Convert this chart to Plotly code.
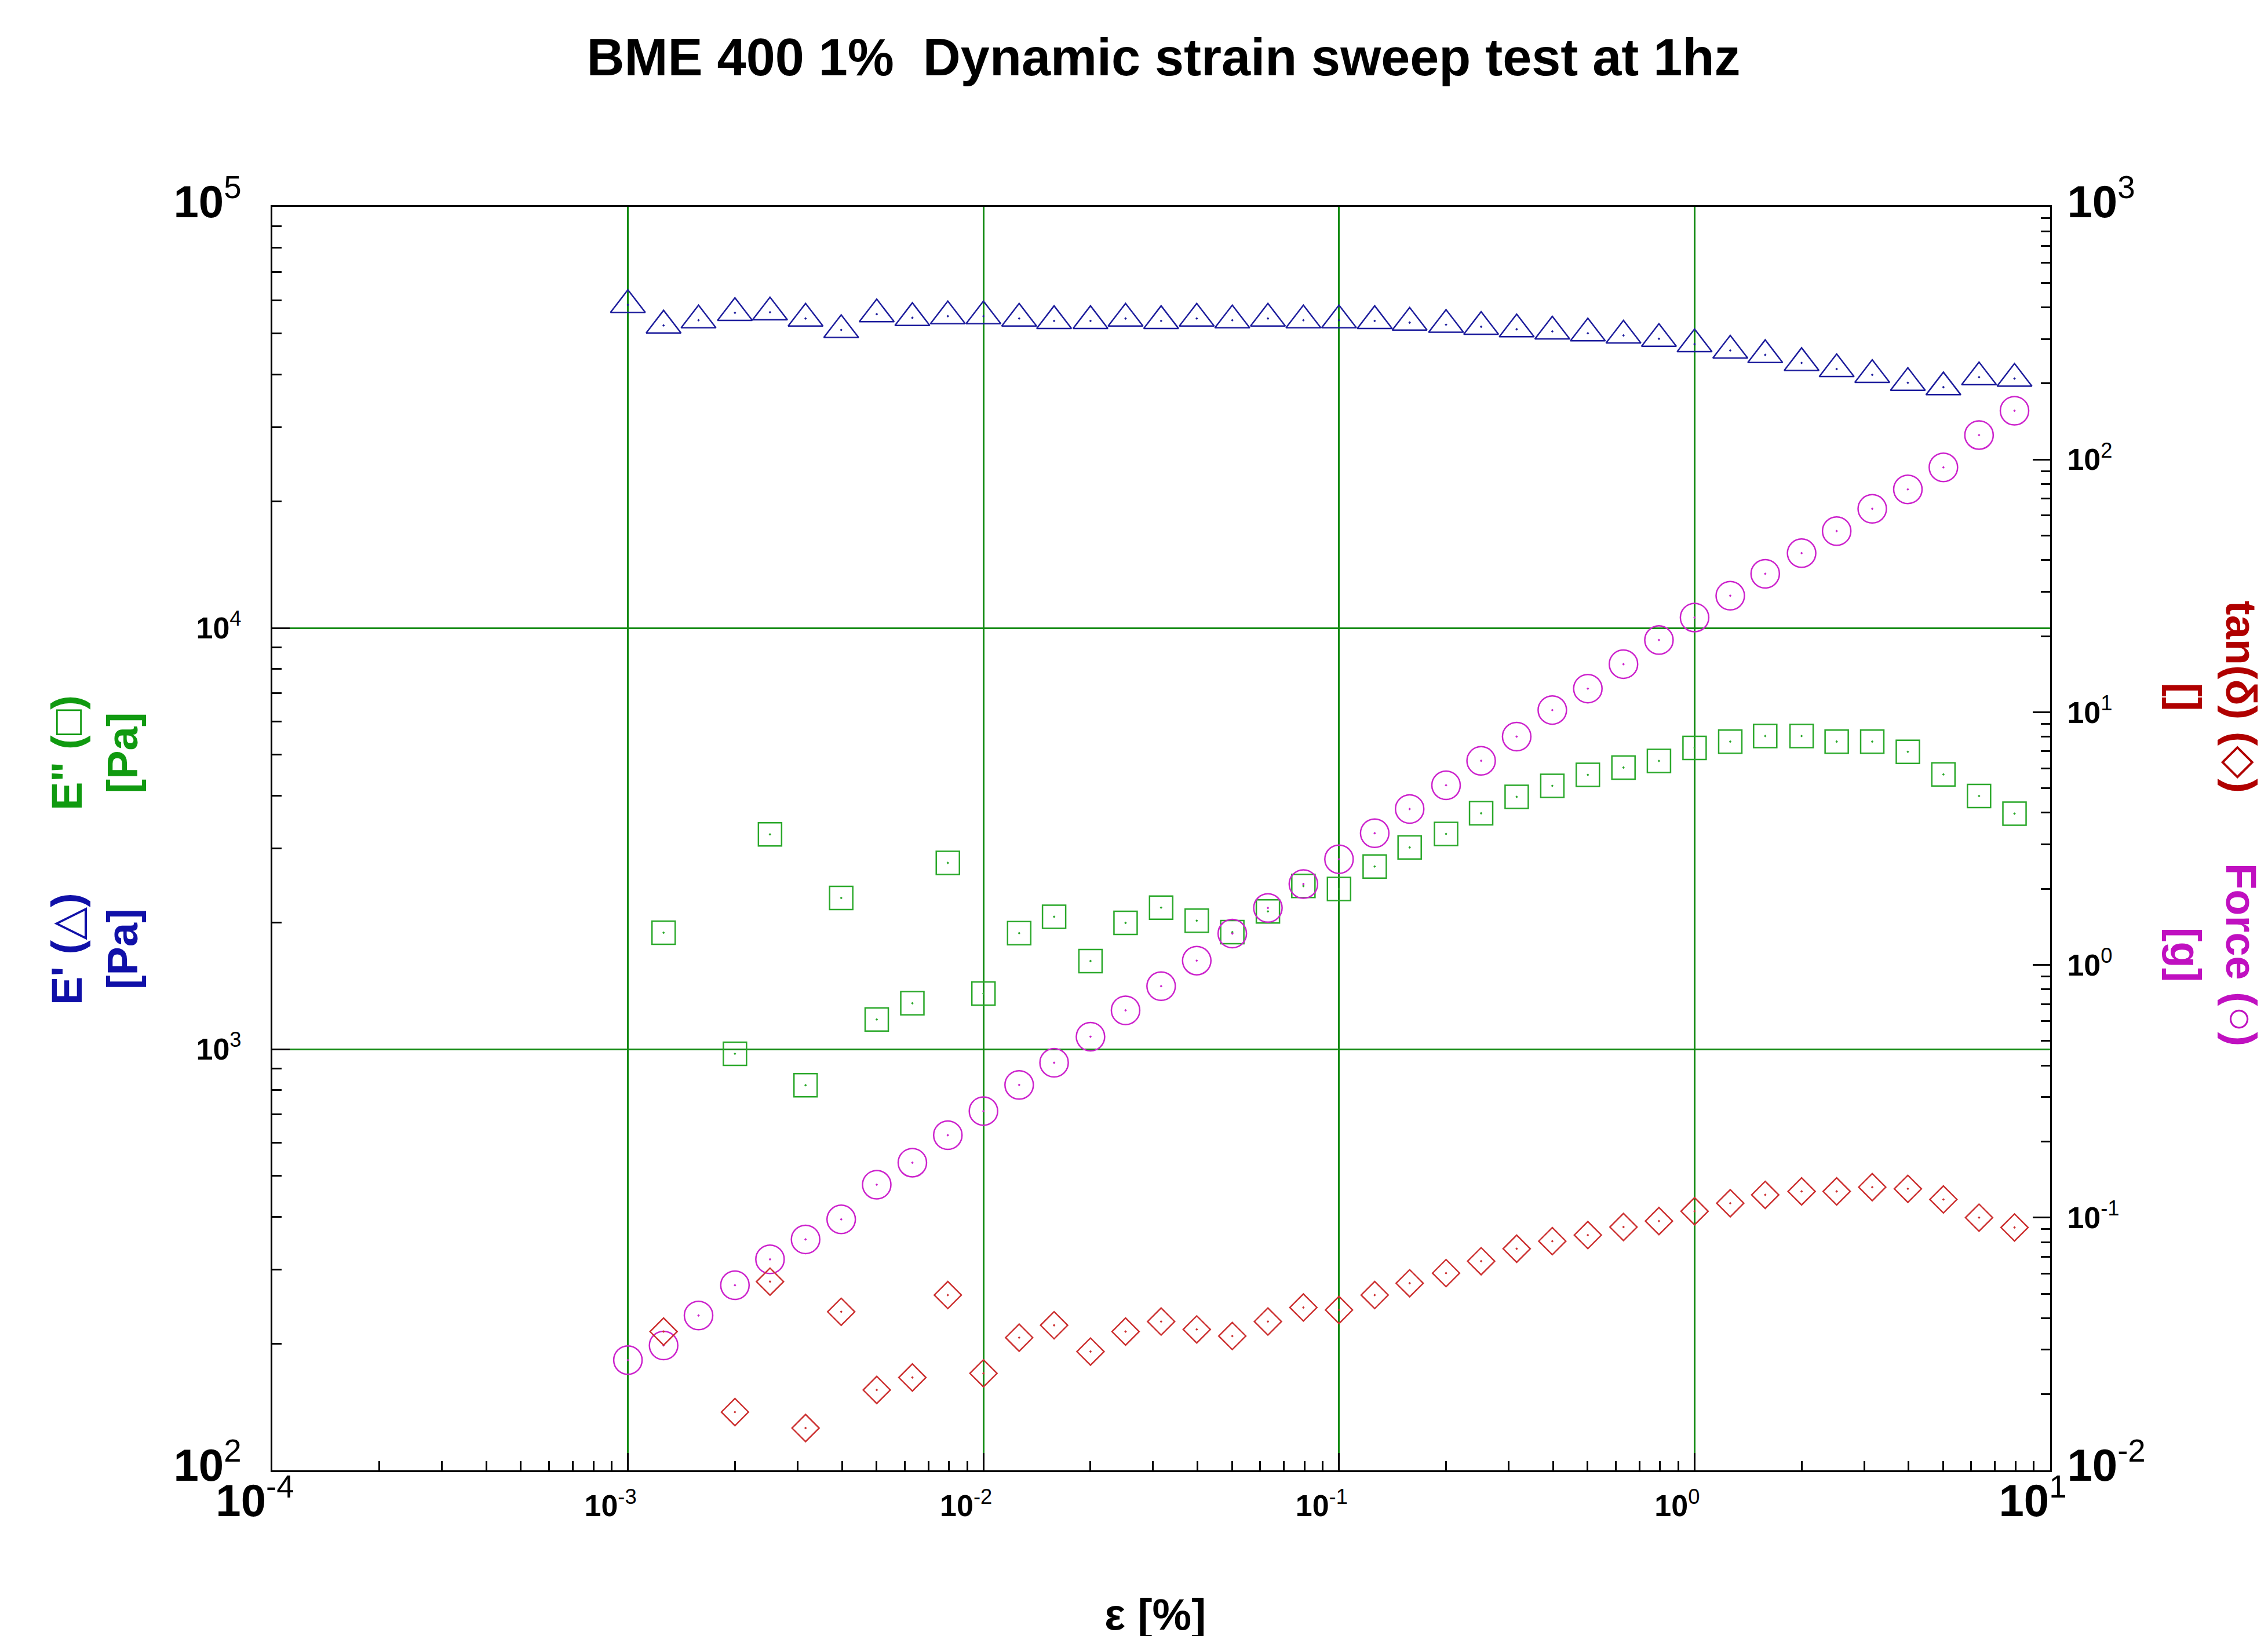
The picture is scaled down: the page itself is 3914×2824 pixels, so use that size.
import plotly.graph_objects as go

# ---------------- data ----------------
strain_pct = [0.001, 0.00126, 0.00158, 0.002, 0.00251, 0.00316, 0.00398, 0.00501, 0.00631, 0.00794,
              0.01, 0.0126, 0.0158, 0.02, 0.0251, 0.0316, 0.0398, 0.0501, 0.0631, 0.0794,
              0.1, 0.126, 0.158, 0.2, 0.251, 0.316, 0.398, 0.501, 0.631, 0.794,
              1.0, 1.26, 1.58, 2.0, 2.51, 3.16, 3.98, 5.01, 6.31, 7.94]

e_storage_pa = [58500, 52300, 53800, 56000, 56200, 54300, 51000, 55600, 54500, 55000,
                55000, 54300, 53600, 53600, 54300, 53600, 54300, 53800, 54300, 53800,
                53800, 53600, 53100, 52500, 51900, 51200, 50600, 50100, 49500, 48600,
                47200, 45600, 44500, 42600, 41200, 39900, 38200, 37300, 39400, 39100]

e_loss_pa = [None, 1890, None, 975, 3236, 821, 2285, 1176, 1285, 2768,
             1355, 1885, 2062, 1619, 1994, 2168, 2018, 1896, 2124, 2440,
             2400, 2715, 3013, 3243, 3631, 3971, 4219, 4479, 4663, 4833,
             5190, 5373, 5541, 5541, 5373, 5373, 5082, 4490, 3990, 3624]

tan_delta = [None, 0.0354, None, 0.0170, 0.0558, 0.0147, 0.0424, 0.0208, 0.0233, 0.0494,
             0.0242, 0.0335, 0.0375, 0.0295, 0.0354, 0.0388, 0.0361, 0.0340, 0.0388, 0.0441,
             0.0431, 0.0494, 0.0550, 0.0603, 0.0672, 0.0753, 0.0807, 0.0853, 0.0918, 0.0969,
             0.106, 0.114, 0.123, 0.127, 0.127, 0.132, 0.130, 0.118, 0.100, 0.0914]

force_g = [0.0273, 0.0312, 0.0410, 0.0540, 0.0684, 0.0820, 0.0984, 0.135, 0.165, 0.212,
           0.264, 0.335, 0.410, 0.520, 0.661, 0.824, 1.04, 1.33, 1.68, 2.09,
           2.62, 3.32, 4.14, 5.14, 6.42, 8.01, 10.2, 12.4, 15.5, 19.3,
           23.7, 28.9, 35.3, 42.6, 52.1, 63.8, 76.2, 93.1, 125, 156]

x_tick_vals = [1e-4, 1e-3, 1e-2, 1e-1, 1e0, 1e1]
x_tick_exps = ["-4", "-3", "-2", "-1", "0", "1"]
y_left_tick_vals = [1e2, 1e3, 1e4, 1e5]
y_left_tick_exps = ["2", "3", "4", "5"]
y_right_tick_vals = [1e-2, 1e-1, 1e0, 1e1, 1e2, 1e3]
y_right_tick_exps = ["-2", "-1", "0", "1", "2", "3"]

title_text = "BME 400 1%  Dynamic strain sweep test at 1hz"
x_title = "ε [%]"

# ---------------- styling ----------------
FONT = "Liberation Sans, Arial, DejaVu Sans, sans-serif"
BIG, SMALL = 78, 52


def tick_labels(exps):
    out = []
    n = len(exps)
    for i, e in enumerate(exps):
        size = BIG if i in (0, n - 1) else SMALL
        out.append('<span style="font-size:%dpx">10<sup><span style="font-weight:normal">%s</span></sup></span>'
                   % (size, e))
    return out


W, H = 3914, 2824
L, R, T, B = 462, 3530, 349, 2530
pw, ph = R - L, B - T


def px_x(x):
    return (x - L) / pw


def px_y(y):
    return (B - y) / ph


fig = go.Figure()

fig.add_trace(go.Scatter(
    x=strain_pct, y=e_storage_pa, mode="markers", yaxis="y",
    marker=dict(symbol="triangle-up-open-dot", size=52, color="#1c1c9c",
                line=dict(width=2.5, color="#1c1c9c")),
    name="E'"))
fig.add_trace(go.Scatter(
    x=strain_pct, y=e_loss_pa, mode="markers", yaxis="y",
    marker=dict(symbol="square-open-dot", size=40, color="#2aa82a",
                line=dict(width=2.5, color="#2aa82a")),
    name="E''"))
fig.add_trace(go.Scatter(
    x=strain_pct, y=force_g, mode="markers", yaxis="y2",
    marker=dict(symbol="circle-open-dot", size=49, color="#cc22cc",
                line=dict(width=2.5, color="#cc22cc")),
    name="Force"))
fig.add_trace(go.Scatter(
    x=strain_pct, y=tan_delta, mode="markers", yaxis="y2",
    marker=dict(symbol="diamond-open-dot", size=36, color="#cc3030",
                line=dict(width=2.5, color="#cc3030")),
    name="tan(δ)"))

minor_common = dict(ticks="inside", ticklen=16, tickwidth=3, tickcolor="black",
                    dtick="D1", showgrid=False)

fig.update_layout(
    width=W, height=H,
    margin=dict(l=L, r=W - R, t=T, b=H - B, pad=0),
    paper_bgcolor="white", plot_bgcolor="white",
    showlegend=False,
    font=dict(family=FONT, color="black", size=SMALL),
    title=dict(text=title_text, x=px_x(2000), xanchor="center", xref="paper",
               y=1 - 90 / H, yanchor="middle", yref="container",
               font=dict(family=FONT, size=90, weight="bold", color="black")),
    xaxis=dict(type="log", range=[-4, 1], showline=True, linecolor="black", linewidth=3,
               mirror=True, showgrid=True, gridcolor="#138a13", gridwidth=3,
               ticks="inside", ticklen=30, tickwidth=3, tickcolor="black",
               tickmode="array", tickvals=x_tick_vals, ticktext=tick_labels(x_tick_exps),
               tickfont=dict(family=FONT, size=SMALL, weight="bold", color="black"),
               ticklabelstandoff=14, ticklabelshift=-30,
               minor=minor_common, zeroline=False),
    yaxis=dict(type="log", range=[2, 5], showline=True, linecolor="black", linewidth=3,
               showgrid=True, gridcolor="#138a13", gridwidth=3,
               ticks="inside", ticklen=30, tickwidth=3, tickcolor="black",
               tickmode="array", tickvals=y_left_tick_vals, ticktext=tick_labels(y_left_tick_exps),
               tickfont=dict(family=FONT, size=SMALL, weight="bold", color="black"),
               ticklabelstandoff=40,
               minor=minor_common, zeroline=False),
    yaxis2=dict(type="log", range=[-2, 3], overlaying="y", side="right",
                showline=True, linecolor="black", linewidth=3, showgrid=False,
                ticks="inside", ticklen=30, tickwidth=3, tickcolor="black",
                tickmode="array", tickvals=y_right_tick_vals, ticktext=tick_labels(y_right_tick_exps),
                tickfont=dict(family=FONT, size=SMALL, weight="bold", color="black"),
                ticklabelstandoff=16,
                minor=minor_common, zeroline=False),
)

ann_font = dict(family=FONT, size=74, weight="bold")
annotations = [
    dict(text=x_title, x=px_x(1985), y=px_y(2778), font=dict(ann_font, size=76, color="black"), textangle=0),
    dict(text="E' (△)<br>[Pa]", x=px_x(155), y=px_y(1630), font=dict(ann_font, color="#1010a8"), textangle=-90),
    dict(text='E" (□)<br>[Pa]', x=px_x(155), y=px_y(1292), font=dict(ann_font, color="#109a10"), textangle=-90),
    dict(text="tan(δ) (◇)<br>[]", x=px_x(3812), y=px_y(1195), font=dict(ann_font, color="#b00000"), textangle=90),
    dict(text="Force (○)<br>[g]", x=px_x(3812), y=px_y(1640), font=dict(ann_font, color="#c010c0"), textangle=90),
]
for a in annotations:
    fig.add_annotation(xref="paper", yref="paper", showarrow=False, align="center",
                       xanchor="center", yanchor="middle", **a)

fig.write_html("out.html")
